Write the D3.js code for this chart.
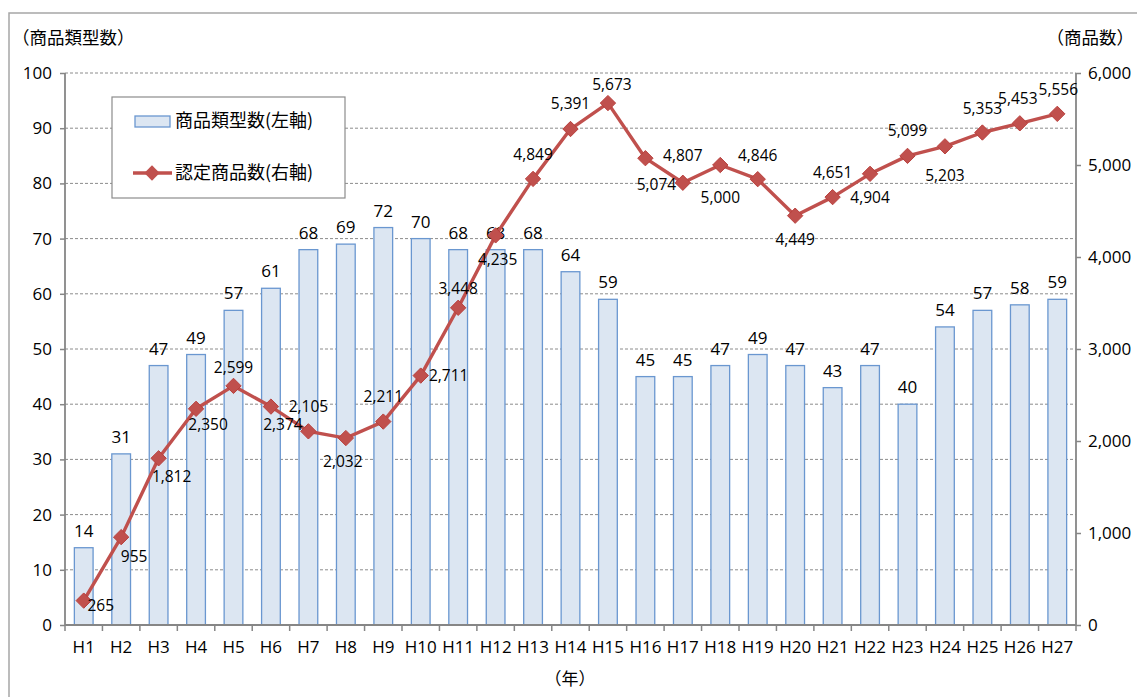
<!DOCTYPE html>
<html>
<head>
<meta charset="utf-8">
<script src="https://cdn.jsdelivr.net/npm/d3@7"></script>
<style>
  body { margin: 0; background: #fff; }
  text { font-family: "Open Sans", "Noto Sans CJK JP", sans-serif; fill: #000; }
  .jp { font-family: "Noto Sans CJK JP", sans-serif; }
</style>
</head>
<body>
<svg id="chart" width="1137" height="697"></svg>
<script>
// data
var years = ["H1","H2","H3","H4","H5","H6","H7","H8","H9","H10","H11","H12","H13","H14",
  "H15","H16","H17","H18","H19","H20","H21","H22","H23","H24","H25","H26","H27"];
var typeCounts = [14,31,47,49,57,61,68,69,72,70,68,68,68,64,59,45,45,47,49,47,43,47,40,54,57,58,59];
var productCounts = [265,955,1812,2350,2599,2374,2105,2032,2211,2711,3448,4235,4849,5391,
  5673,5074,4807,5000,4846,4449,4651,4904,5099,5203,5353,5453,5556];
var leftTicks = [0,10,20,30,40,50,60,70,80,90,100];
var rightTicks = [0,1000,2000,3000,4000,5000,6000];

// where each line label sits relative to its marker: [dx, dy]
var labelOffset = [[17,5],[13,19],[13,18],[12,16],[0,-18],[12,18],[0,-25],[-3,24],[0,-25],[28,0],
  [0,-19],[2,24],[0,-24],[0,-25],[4,-19],[11,26],[0,-27],[0,33],[0,-24],[0,24],[0,-25],[0,24],
  [0,-25],[0,29],[0,-24],[-2,-25],[1,-24]];

var svg = d3.select("#chart"),
  margin = {left: 65, right: 1076, top: 73, bottom: 625};

var x = d3.scaleBand().domain(years).range([margin.left, margin.right]).paddingInner(0).paddingOuter(0);
var yL = d3.scaleLinear().domain([0, 100]).range([margin.bottom, margin.top]);
var yR = d3.scaleLinear().domain([0, 6000]).range([margin.bottom, margin.top]);

// outer frame
svg.append("path").attr("d", "M9,697 L9,13 L1137,13")
  .attr("fill", "none").attr("stroke", "#a6a6a6").attr("stroke-width", 1.5);

// gridlines
svg.append("g").selectAll("line").data(leftTicks.slice(1)).join("line")
  .attr("x1", margin.left).attr("x2", margin.right)
  .attr("y1", d => yL(d)).attr("y2", d => yL(d))
  .attr("stroke", "#8c8c8c").attr("stroke-width", 1).attr("stroke-dasharray", "3,2");

// bars
var bw = x.bandwidth() * 0.5;
svg.append("g").selectAll("rect").data(typeCounts).join("rect")
  .attr("x", (d, i) => x(years[i]) + (x.bandwidth() - bw) / 2)
  .attr("y", d => yL(d))
  .attr("width", bw)
  .attr("height", d => yL(0) - yL(d))
  .attr("fill", "#dce6f2").attr("stroke", "#6a97d0").attr("stroke-width", 1.3);

svg.append("g").selectAll("text").data(typeCounts).join("text")
  .attr("x", (d, i) => x(years[i]) + x.bandwidth() / 2)
  .attr("y", d => yL(d) - 11)
  .attr("text-anchor", "middle").attr("font-size", 17)
  .text(d => d);

// axes
var axisColor = "#868686";
var gl = svg.append("g").attr("transform", "translate(" + margin.left + ",0)")
  .call(d3.axisLeft(yL).tickValues(leftTicks).tickSize(5).tickPadding(8));
var gr = svg.append("g").attr("transform", "translate(" + margin.right + ",0)")
  .call(d3.axisRight(yR).tickValues(rightTicks).tickSize(5).tickPadding(7).tickFormat(d3.format(",")));
var gb = svg.append("g").attr("transform", "translate(0," + margin.bottom + ")")
  .call(d3.axisBottom(x).tickSize(0).tickPadding(16));
// bottom tick marks at band boundaries
svg.append("g").selectAll("line").data(years.concat([null])).join("line")
  .attr("x1", (d, i) => margin.left + i * x.step()).attr("x2", (d, i) => margin.left + i * x.step())
  .attr("y1", margin.bottom).attr("y2", margin.bottom + 6)
  .attr("stroke", axisColor).attr("stroke-width", 1.5);

[gl, gr, gb].forEach(function (g) {
  g.selectAll(".domain").attr("stroke", axisColor).attr("stroke-width", 1.8);
  g.selectAll(".tick line").attr("stroke", axisColor).attr("stroke-width", 1.5);
  g.selectAll(".tick text").attr("font-size", 17).attr("fill", "#000")
    .attr("font-family", "'Open Sans', sans-serif");
});
gb.select(".domain").attr("d", "M" + margin.left + ",0H" + margin.right);
gl.select(".domain").attr("d", "M0," + margin.bottom + "V" + margin.top);
gr.select(".domain").attr("d", "M0," + margin.bottom + "V" + margin.top);

// line series
var line = d3.line()
  .x((d, i) => x(years[i]) + x.bandwidth() / 2)
  .y(d => yR(d));
svg.append("path").datum(productCounts)
  .attr("d", line).attr("fill", "none")
  .attr("stroke", "#c0504d").attr("stroke-width", 3.4).attr("stroke-linejoin", "round");

var diamond = d3.symbol().type(d3.symbolDiamond2).size(150);
svg.append("g").selectAll("path").data(productCounts).join("path")
  .attr("d", diamond)
  .attr("transform", (d, i) => "translate(" + (x(years[i]) + x.bandwidth() / 2) + "," + yR(d) + ")")
  .attr("fill", "#c0504d").attr("stroke", "#b9403d").attr("stroke-width", 1);

svg.append("g").selectAll("text").data(productCounts).join("text")
  .attr("x", (d, i) => x(years[i]) + x.bandwidth() / 2 + labelOffset[i][0])
  .attr("y", (d, i) => yR(d) + labelOffset[i][1])
  .attr("dy", "0.35em")
  .attr("text-anchor", "middle").attr("font-size", 15.5)
  .text(d => d3.format(",")(d));

// axis titles
svg.append("text").attr("class", "jp").attr("x", 12).attr("y", 44)
  .attr("font-size", 17.5).text("（商品類型数）");
svg.append("text").attr("class", "jp").attr("x", 1134).attr("y", 44)
  .attr("text-anchor", "end").attr("font-size", 17.5).text("（商品数）");
svg.append("text").attr("class", "jp").attr("x", 570).attr("y", 685)
  .attr("text-anchor", "middle").attr("font-size", 17).text("（年）");

// legend
var lg = svg.append("g");
lg.append("rect").attr("x", 112).attr("y", 97).attr("width", 233).attr("height", 101)
  .attr("fill", "#fff").attr("stroke", "#8c8c8c").attr("stroke-width", 1.2);
lg.append("rect").attr("x", 135).attr("y", 116).attr("width", 35).attr("height", 11)
  .attr("fill", "#dce6f2").attr("stroke", "#6a97d0").attr("stroke-width", 1.3);
lg.append("text").attr("class", "jp").attr("x", 175).attr("y", 127)
  .attr("font-size", 18).text("商品類型数(左軸)");
lg.append("line").attr("x1", 133).attr("x2", 172).attr("y1", 173).attr("y2", 173)
  .attr("stroke", "#c0504d").attr("stroke-width", 3.4);
lg.append("path").attr("d", diamond).attr("transform", "translate(152,173)")
  .attr("fill", "#c0504d");
lg.append("text").attr("class", "jp").attr("x", 175).attr("y", 179)
  .attr("font-size", 18).text("認定商品数(右軸)");
</script>
</body>
</html>
